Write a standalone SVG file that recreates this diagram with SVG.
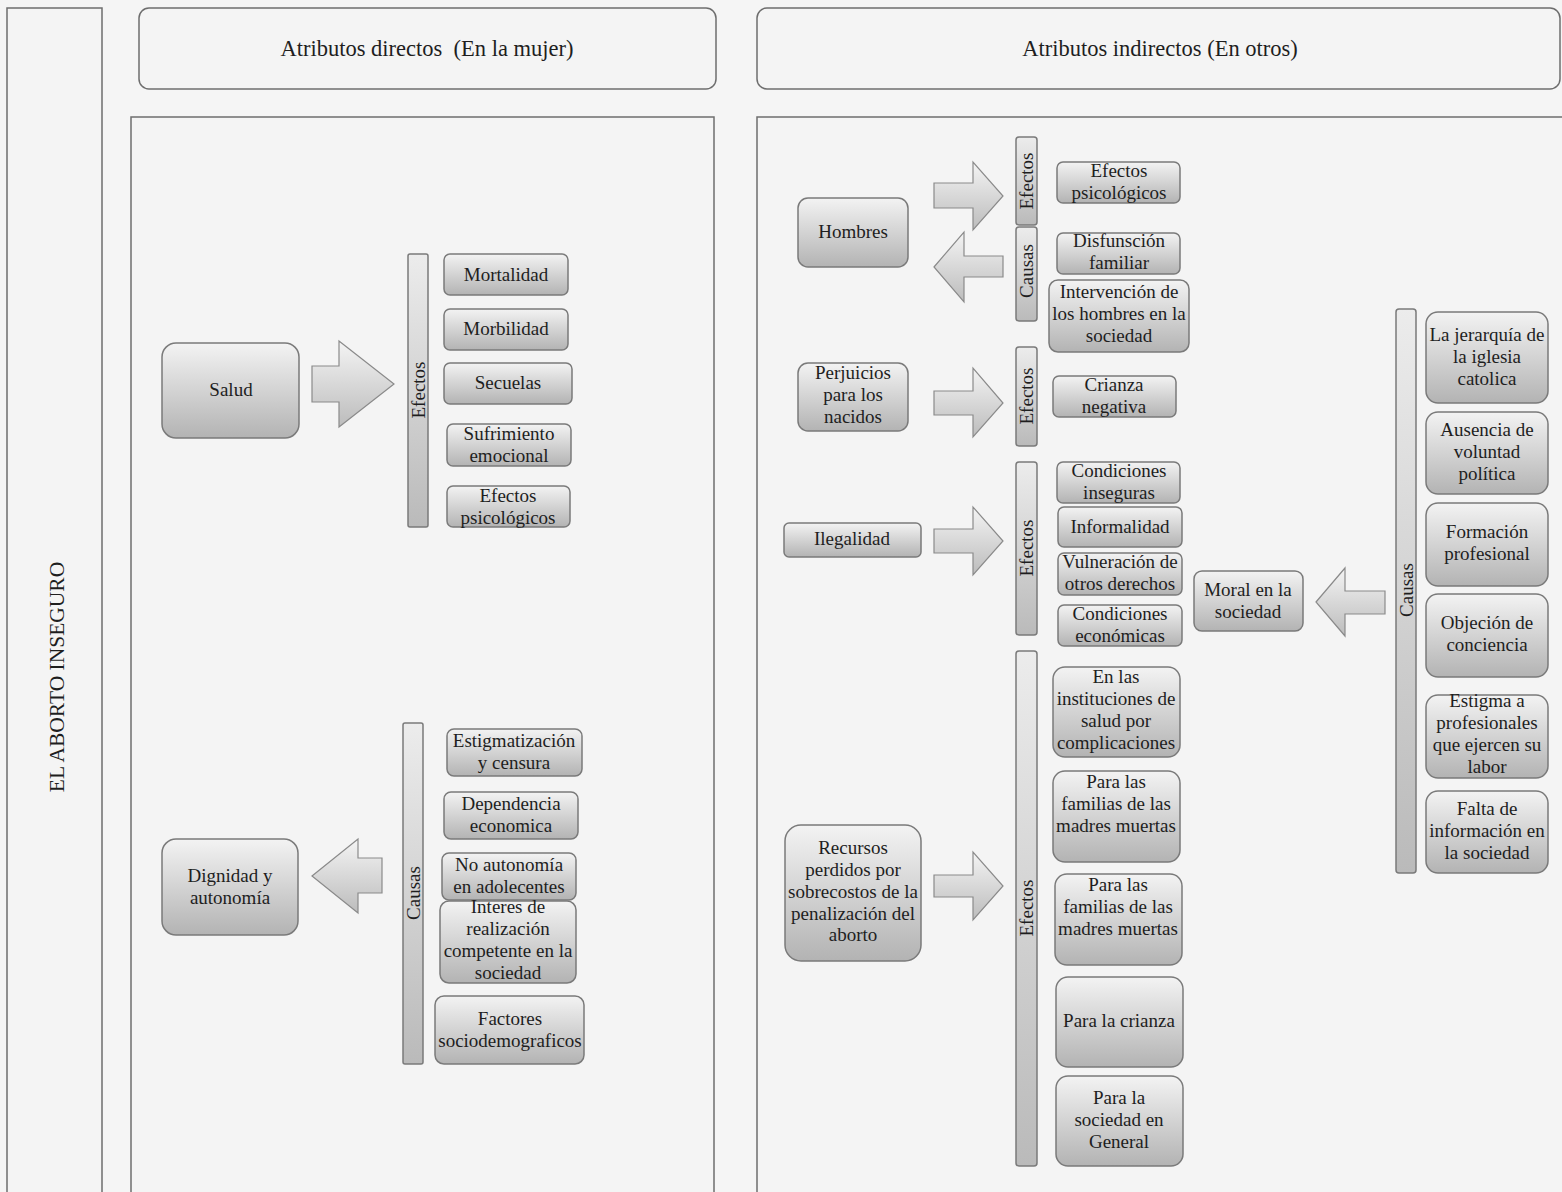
<svg xmlns="http://www.w3.org/2000/svg" width="1562" height="1192" viewBox="0 0 1562 1192" font-family="'Liberation Serif', Tinos, 'Times New Roman', 'DejaVu Serif', serif">
<defs>
<linearGradient id="gBox" x1="0" y1="0" x2="0" y2="1">
<stop offset="0" stop-color="#f3f3f3"/>
<stop offset="1" stop-color="#b3b3b3"/>
</linearGradient>
<linearGradient id="gBar" x1="0" y1="0" x2="0" y2="1">
<stop offset="0" stop-color="#ececec"/>
<stop offset="1" stop-color="#bababa"/>
</linearGradient>
<linearGradient id="gArrow" x1="0" y1="0" x2="0" y2="1">
<stop offset="0" stop-color="#f4f4f4"/>
<stop offset="1" stop-color="#bcbcbc"/>
</linearGradient>
<style>
text{font-family:'Liberation Serif',Tinos,'Times New Roman','DejaVu Serif',serif;fill:#1e1e1e;text-anchor:middle}
.t{font-size:19px}
.h{font-size:22.5px;white-space:pre}
.ttl{font-size:21.5px}
.frame{fill:#f4f4f4;stroke:#6e6e6e;stroke-width:1.5}
.box{fill:url(#gBox);stroke:#7a7a7a;stroke-width:1.5}
.bar{fill:url(#gBar);stroke:#7a7a7a;stroke-width:1.5}
.arr{fill:url(#gArrow);stroke:#8a8a8a;stroke-width:1.2}
</style>
</defs>
<rect x="0" y="0" width="1562" height="1192" fill="#f5f5f5"/>

<g id="title">
<rect class="frame" x="7" y="8" width="95" height="1200"/>
<text class="ttl" transform="translate(64,677) rotate(-90)">EL ABORTO INSEGURO</text>
</g>
<g id="header-directos">
<rect class="frame" x="139" y="8" width="577" height="81" rx="10"/>
<text class="h" x="427" y="56">Atributos directos  (En la mujer)</text>
</g>
<g id="header-indirectos">
<rect class="frame" x="757" y="8" width="803" height="81" rx="10"/>
<text class="h" x="1160" y="56">Atributos indirectos (En otros)</text>
</g>
<g id="panel-directos"><rect class="frame" x="131" y="117" width="583" height="1100"/></g>
<g id="panel-indirectos"><rect class="frame" x="757" y="117" width="810" height="1100"/></g>

<g id="connectors">
<polygon class="arr" points="312,366 339,366 339,341 394,384 339,427 339,402 312,402"/>
<polygon class="arr" points="312,876 358,839 358,858 382,858 382,893 358,893 358,913"/>
<polygon class="arr" points="934,183 973,183 973,162 1003,196 973,230 973,208 934,208"/>
<polygon class="arr" points="934,267 964,232 964,256 1003,256 1003,277 964,277 964,302"/>
<polygon class="arr" points="934,391 973,391 973,368 1003,403 973,437 973,415 934,415"/>
<polygon class="arr" points="934,529 973,529 973,507 1003,541 973,575 973,553 934,553"/>
<polygon class="arr" points="934,875 973,875 973,852 1003,886 973,920 973,897 934,897"/>
<polygon class="arr" points="1316,602 1345,568 1345,591 1385,591 1385,614 1345,614 1345,636"/>
</g>

<!-- Left panel -->
<g id="salud"><rect class="box" x="162" y="343" width="137" height="95" rx="14"/><text class="t" x="231" y="396">Salud</text></g>
<g id="bar-efectos-salud"><rect class="bar" x="408" y="254" width="20" height="273" rx="2"/><text class="t" transform="translate(425,390) rotate(-90)">Efectos</text></g>
<g id="mortalidad"><rect class="box" x="444" y="254" width="124" height="41" rx="6"/><text class="t" x="506" y="281">Mortalidad</text></g>
<g id="morbilidad"><rect class="box" x="444" y="309" width="124" height="41" rx="6"/><text class="t" x="506" y="335">Morbilidad</text></g>
<g id="secuelas"><rect class="box" x="444" y="363" width="128" height="41" rx="6"/><text class="t" x="508" y="389">Secuelas</text></g>
<g id="sufrimiento"><rect class="box" x="447" y="424" width="124" height="42" rx="6"/><text class="t" x="509" y="440">Sufrimiento<tspan x="509" dy="22">emocional</tspan></text></g>
<g id="efectos-psicologicos-1"><rect class="box" x="447" y="486" width="123" height="41" rx="6"/><text class="t" x="508" y="502">Efectos<tspan x="508" dy="22">psicológicos</tspan></text></g>

<g id="dignidad"><rect class="box" x="162" y="839" width="136" height="96" rx="14"/><text class="t" x="230" y="882">Dignidad y<tspan x="230" dy="22">autonomía</tspan></text></g>
<g id="bar-causas-dignidad"><rect class="bar" x="403" y="723" width="20" height="341" rx="2"/><text class="t" transform="translate(420,893) rotate(-90)">Causas</text></g>
<g id="estigmatizacion"><rect class="box" x="447" y="729" width="135" height="47" rx="7"/><text class="t" x="514" y="747">Estigmatización<tspan x="514" dy="22">y censura</tspan></text></g>
<g id="dependencia"><rect class="box" x="444" y="792" width="134" height="47" rx="7"/><text class="t" x="511" y="810">Dependencia<tspan x="511" dy="22">economica</tspan></text></g>
<g id="no-autonomia"><rect class="box" x="442" y="853" width="134" height="47" rx="7"/><text class="t" x="509" y="871">No autonomía<tspan x="509" dy="22">en adolecentes</tspan></text></g>
<g id="interes"><rect class="box" x="440" y="901" width="136" height="82" rx="9"/><text class="t" x="508" y="913">Interes de<tspan x="508" dy="22">realización</tspan><tspan x="508" dy="22">competente en la</tspan><tspan x="508" dy="22">sociedad</tspan></text></g>
<g id="factores"><rect class="box" x="435" y="996" width="149" height="68" rx="9"/><text class="t" x="510" y="1025">Factores<tspan x="510" dy="22">sociodemograficos</tspan></text></g>

<!-- Right panel -->
<g id="hombres"><rect class="box" x="798" y="198" width="110" height="69" rx="10"/><text class="t" x="853" y="238">Hombres</text></g>
<g id="bar-efectos-hombres"><rect class="bar" x="1016" y="137" width="21" height="88" rx="3"/><text class="t" transform="translate(1033,181) rotate(-90)">Efectos</text></g>
<g id="bar-causas-hombres"><rect class="bar" x="1016" y="227" width="21" height="94" rx="3"/><text class="t" transform="translate(1033,271) rotate(-90)">Causas</text></g>
<g id="efectos-psicologicos-2"><rect class="box" x="1057" y="162" width="123" height="41" rx="6"/><text class="t" x="1119" y="177">Efectos<tspan x="1119" dy="22">psicológicos</tspan></text></g>
<g id="disfuncion"><rect class="box" x="1057" y="233" width="123" height="41" rx="6"/><text class="t" x="1119" y="247">Disfunsción<tspan x="1119" dy="22">familiar</tspan></text></g>
<g id="intervencion"><rect class="box" x="1049" y="280" width="140" height="72" rx="9"/><text class="t" x="1119" y="298">Intervención de<tspan x="1119" dy="22">los hombres en la</tspan><tspan x="1119" dy="22">sociedad</tspan></text></g>

<g id="perjuicios"><rect class="box" x="798" y="363" width="110" height="68" rx="10"/><text class="t" x="853" y="379">Perjuicios<tspan x="853" dy="22">para los</tspan><tspan x="853" dy="22">nacidos</tspan></text></g>
<g id="bar-efectos-perjuicios"><rect class="bar" x="1016" y="347" width="21" height="99" rx="3"/><text class="t" transform="translate(1033,396) rotate(-90)">Efectos</text></g>
<g id="crianza-negativa"><rect class="box" x="1053" y="376" width="123" height="41" rx="6"/><text class="t" x="1114" y="391">Crianza<tspan x="1114" dy="22">negativa</tspan></text></g>

<g id="ilegalidad"><rect class="box" x="784" y="523" width="137" height="34" rx="5"/><text class="t" x="852" y="545">Ilegalidad</text></g>
<g id="bar-efectos-ilegalidad"><rect class="bar" x="1016" y="462" width="21" height="173" rx="3"/><text class="t" transform="translate(1033,548) rotate(-90)">Efectos</text></g>
<g id="condiciones-inseguras"><rect class="box" x="1057" y="462" width="123" height="41" rx="6"/><text class="t" x="1119" y="477">Condiciones<tspan x="1119" dy="22">inseguras</tspan></text></g>
<g id="informalidad"><rect class="box" x="1058" y="507" width="124" height="40" rx="6"/><text class="t" x="1120" y="533">Informalidad</text></g>
<g id="vulneracion"><rect class="box" x="1058" y="553" width="124" height="42" rx="6"/><text class="t" x="1120" y="568">Vulneración de<tspan x="1120" dy="22">otros derechos</tspan></text></g>
<g id="condiciones-economicas"><rect class="box" x="1058" y="605" width="124" height="41" rx="6"/><text class="t" x="1120" y="620">Condiciones<tspan x="1120" dy="22">económicas</tspan></text></g>

<g id="moral"><rect class="box" x="1194" y="571" width="109" height="60" rx="8"/><text class="t" x="1248" y="596">Moral en la<tspan x="1248" dy="22">sociedad</tspan></text></g>
<g id="bar-causas-moral"><rect class="bar" x="1396" y="309" width="20" height="564" rx="3"/><text class="t" transform="translate(1413,590) rotate(-90)">Causas</text></g>
<g id="jerarquia"><rect class="box" x="1426" y="312" width="122" height="91" rx="12"/><text class="t" x="1487" y="341">La jerarquía de<tspan x="1487" dy="22">la iglesia</tspan><tspan x="1487" dy="22">catolica</tspan></text></g>
<g id="ausencia"><rect class="box" x="1426" y="412" width="122" height="82" rx="12"/><text class="t" x="1487" y="436">Ausencia de<tspan x="1487" dy="22">voluntad</tspan><tspan x="1487" dy="22">política</tspan></text></g>
<g id="formacion"><rect class="box" x="1426" y="503" width="122" height="83" rx="12"/><text class="t" x="1487" y="538">Formación<tspan x="1487" dy="22">profesional</tspan></text></g>
<g id="objecion"><rect class="box" x="1426" y="594" width="122" height="83" rx="12"/><text class="t" x="1487" y="629">Objeción de<tspan x="1487" dy="22">conciencia</tspan></text></g>
<g id="estigma"><rect class="box" x="1426" y="695" width="122" height="83" rx="12"/><text class="t" x="1487" y="707">Estigma a<tspan x="1487" dy="22">profesionales</tspan><tspan x="1487" dy="22">que ejercen su</tspan><tspan x="1487" dy="22">labor</tspan></text></g>
<g id="falta"><rect class="box" x="1426" y="791" width="122" height="82" rx="12"/><text class="t" x="1487" y="815">Falta de<tspan x="1487" dy="22">información en</tspan><tspan x="1487" dy="22">la sociedad</tspan></text></g>

<g id="recursos"><rect class="box" x="785" y="825" width="136" height="136" rx="16"/><text class="t" x="853" y="854">Recursos<tspan x="853" dy="22">perdidos por</tspan><tspan x="853" dy="22">sobrecostos de la</tspan><tspan x="853" dy="21.5">penalización del</tspan><tspan x="853" dy="21.5">aborto</tspan></text></g>
<g id="bar-efectos-recursos"><rect class="bar" x="1016" y="651" width="21" height="515" rx="3"/><text class="t" transform="translate(1033,908) rotate(-90)">Efectos</text></g>
<g id="instituciones"><rect class="box" x="1053" y="667" width="127" height="90" rx="12"/><text class="t" x="1116" y="683">En las<tspan x="1116" dy="22">instituciones de</tspan><tspan x="1116" dy="22">salud por</tspan><tspan x="1116" dy="22">complicaciones</tspan></text></g>
<g id="familias-1"><rect class="box" x="1053" y="771" width="127" height="91" rx="12"/><text class="t" x="1116" y="788">Para las<tspan x="1116" dy="22">familias de las</tspan><tspan x="1116" dy="22">madres muertas</tspan></text></g>
<g id="familias-2"><rect class="box" x="1055" y="874" width="127" height="91" rx="12"/><text class="t" x="1118" y="891">Para las<tspan x="1118" dy="22">familias de las</tspan><tspan x="1118" dy="22">madres muertas</tspan></text></g>
<g id="crianza"><rect class="box" x="1056" y="977" width="127" height="90" rx="12"/><text class="t" x="1119" y="1027">Para la crianza</text></g>
<g id="sociedad-general"><rect class="box" x="1056" y="1076" width="127" height="90" rx="12"/><text class="t" x="1119" y="1104">Para la<tspan x="1119" dy="22">sociedad en</tspan><tspan x="1119" dy="22">General</tspan></text></g>
</svg>
